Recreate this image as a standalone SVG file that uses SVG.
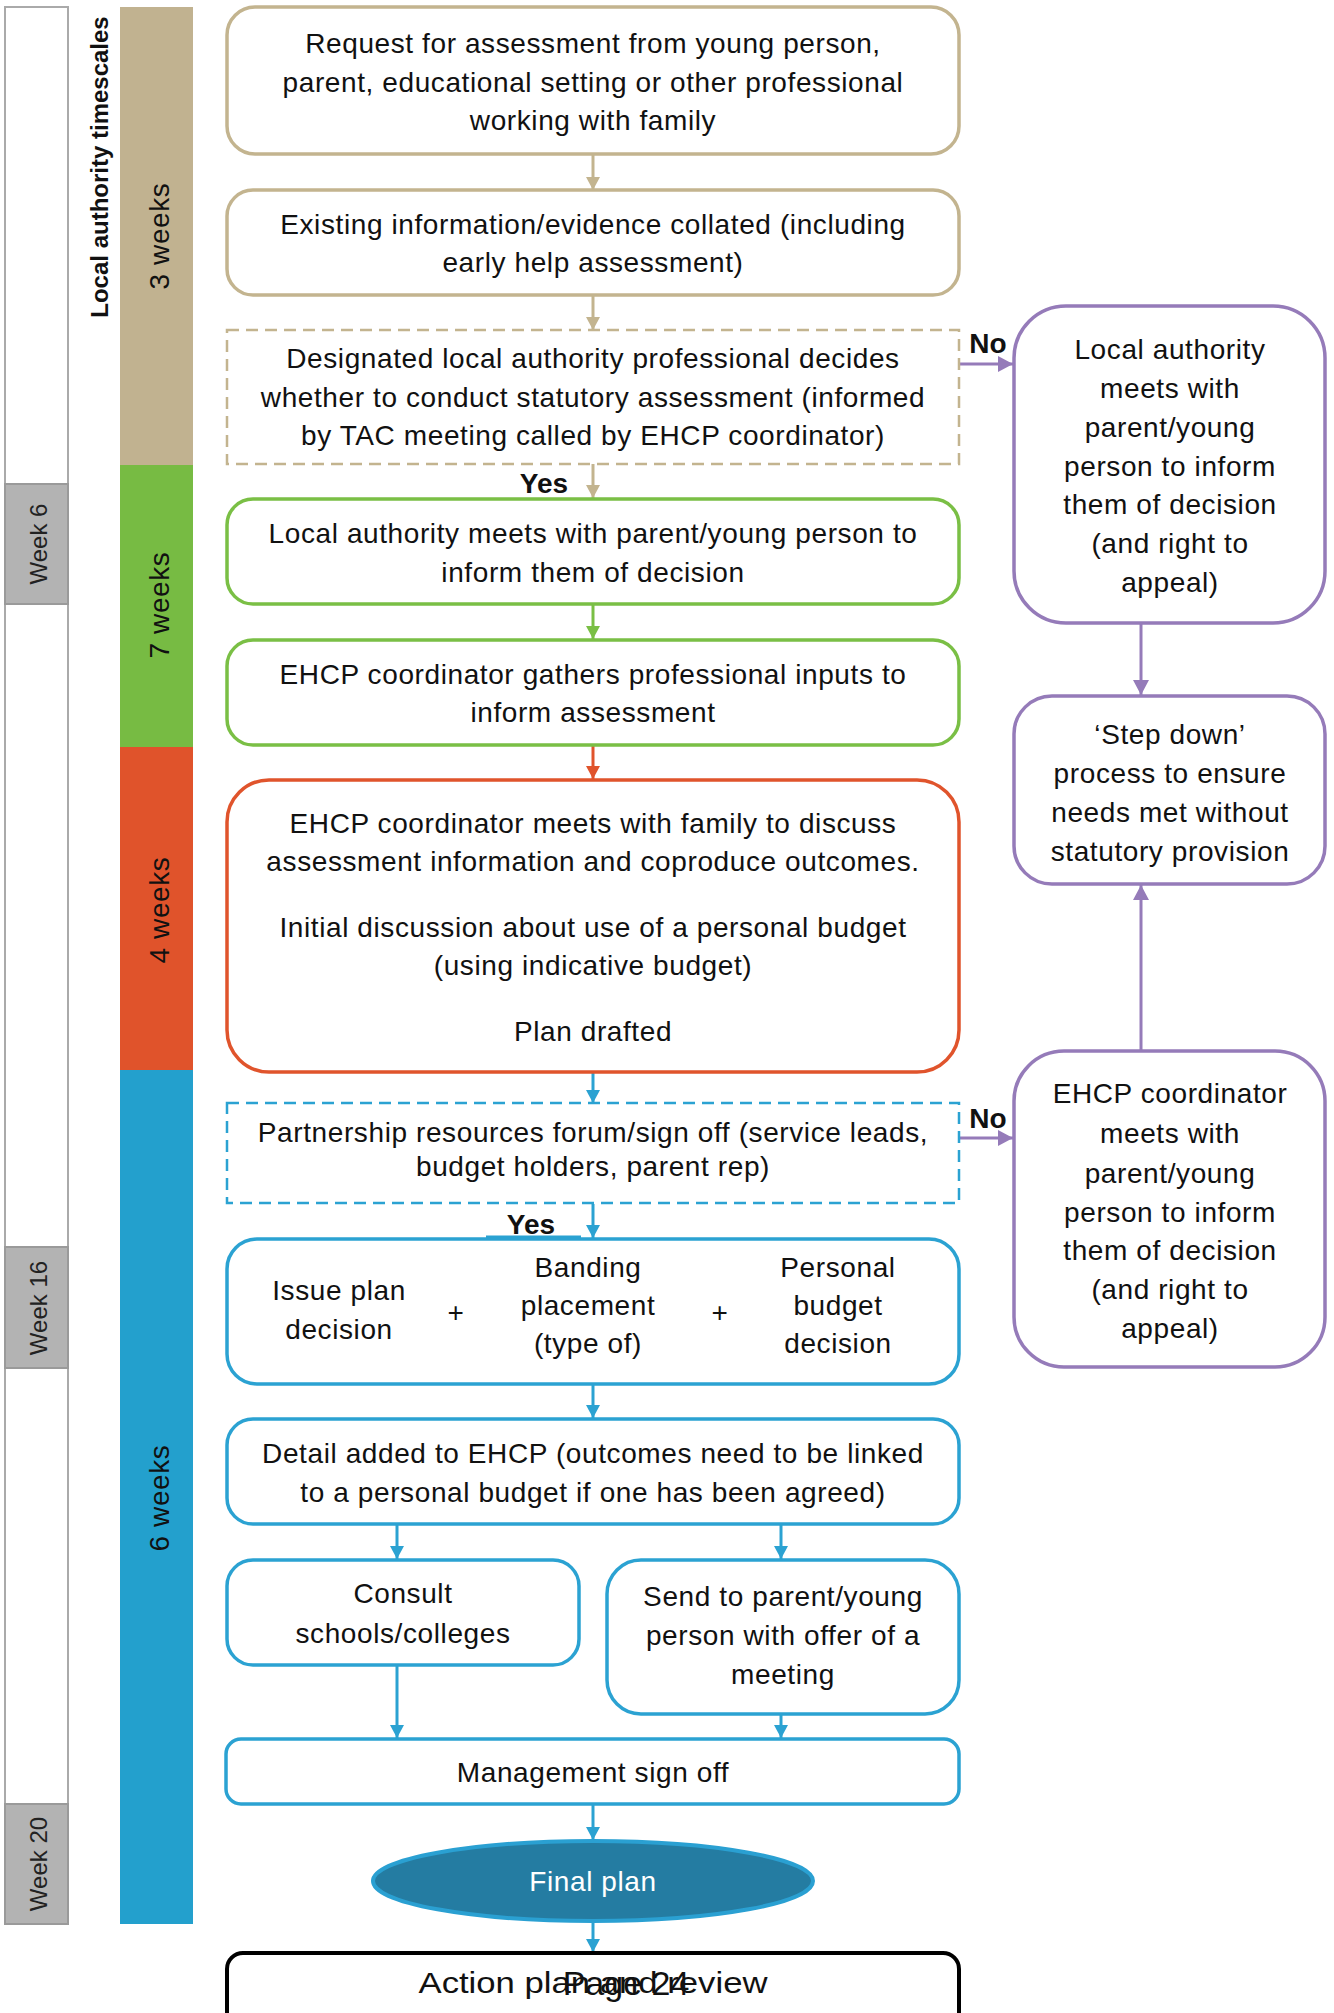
<svg xmlns="http://www.w3.org/2000/svg" width="1334" height="2013" viewBox="0 0 1334 2013">
<style>
.t{font-family:"Liberation Sans",Arial,sans-serif;font-size:28px;letter-spacing:0.6px;fill:#111;text-anchor:middle}
.bd{font-weight:bold;letter-spacing:0}
.wk{font-family:"Liberation Sans",Arial,sans-serif;font-size:24px;fill:#222;text-anchor:middle}
.box{fill:#fff;stroke-width:3.5}
.tan{stroke:#c3b48f}
.grn{stroke:#7abf45}
.red{stroke:#e0542c}
.blu{stroke:#2ba2d2}
.pur{stroke:#957bb9}
.dash{stroke-dasharray:12 7;stroke-width:2.5}
.c{fill:none;stroke-width:3}
.week{fill:#b3b3b3;stroke:#9a9a9a;stroke-width:2}
</style>
<defs>
<marker id="aTan" markerUnits="userSpaceOnUse" markerWidth="14" markerHeight="14" refX="13" refY="7" orient="auto"><path d="M0,0 L13,7 L0,14 z" fill="#c3b48f"/></marker>
<marker id="aGrn" markerUnits="userSpaceOnUse" markerWidth="14" markerHeight="14" refX="13" refY="7" orient="auto"><path d="M0,0 L13,7 L0,14 z" fill="#7abf45"/></marker>
<marker id="aRed" markerUnits="userSpaceOnUse" markerWidth="14" markerHeight="14" refX="13" refY="7" orient="auto"><path d="M0,0 L13,7 L0,14 z" fill="#e0542c"/></marker>
<marker id="aBlu" markerUnits="userSpaceOnUse" markerWidth="14" markerHeight="14" refX="13" refY="7" orient="auto"><path d="M0,0 L13,7 L0,14 z" fill="#2ba2d2"/></marker>
<marker id="aPur" markerUnits="userSpaceOnUse" markerWidth="16" markerHeight="16" refX="15" refY="8" orient="auto"><path d="M0,0 L15,8 L0,16 z" fill="#957bb9"/></marker>
</defs>

<g id="timeline">
<rect x="5" y="7" width="63" height="1917" fill="#fff" stroke="#aaa" stroke-width="2"/>
<rect class="week" x="5" y="484" width="63" height="120"/>
<rect class="week" x="5" y="1247" width="63" height="121"/>
<rect class="week" x="5" y="1804" width="63" height="120"/>
<text class="wk" transform="translate(47,544) rotate(-90)">Week 6</text>
<text class="wk" transform="translate(47,1308) rotate(-90)">Week 16</text>
<text class="wk" transform="translate(47,1864) rotate(-90)">Week 20</text>
<text class="t bd" style="font-size:24px" transform="translate(108,167) rotate(-90)">Local authority timescales</text>
</g>

<g id="phases">
<rect x="120" y="7" width="73" height="458" fill="#c1b290"/>
<rect x="120" y="465" width="73" height="282" fill="#77bb43"/>
<rect x="120" y="747" width="73" height="323" fill="#e0532b"/>
<rect x="120" y="1070" width="73" height="854" fill="#23a0cd"/>
<text class="t" transform="translate(169,236) rotate(-90)">3 weeks</text>
<text class="t" transform="translate(169,605) rotate(-90)">7 weeks</text>
<text class="t" transform="translate(169,910) rotate(-90)">4 weeks</text>
<text class="t" transform="translate(169,1498) rotate(-90)">6 weeks</text>
</g>

<g id="connectors">
<line class="c tan" x1="593" y1="155" x2="593" y2="190" marker-end="url(#aTan)"/>
<line class="c tan" x1="593" y1="296" x2="593" y2="330" marker-end="url(#aTan)"/>
<line class="c tan" x1="593" y1="464" x2="593" y2="498" marker-end="url(#aTan)"/>
<line class="c grn" x1="593" y1="605" x2="593" y2="639" marker-end="url(#aGrn)"/>
<line class="c red" x1="593" y1="746" x2="593" y2="779" marker-end="url(#aRed)"/>
<line class="c blu" x1="593" y1="1073" x2="593" y2="1103" marker-end="url(#aBlu)"/>
<line class="c blu" x1="593" y1="1204" x2="593" y2="1238" marker-end="url(#aBlu)"/>
<line class="c blu" x1="486" y1="1237" x2="581" y2="1237"/>
<line class="c blu" x1="593" y1="1385" x2="593" y2="1418" marker-end="url(#aBlu)"/>
<line class="c blu" x1="397" y1="1525" x2="397" y2="1559" marker-end="url(#aBlu)"/>
<line class="c blu" x1="781" y1="1525" x2="781" y2="1559" marker-end="url(#aBlu)"/>
<line class="c blu" x1="397" y1="1666" x2="397" y2="1738" marker-end="url(#aBlu)"/>
<line class="c blu" x1="781" y1="1715" x2="781" y2="1738" marker-end="url(#aBlu)"/>
<line class="c blu" x1="593" y1="1805" x2="593" y2="1840" marker-end="url(#aBlu)"/>
<line class="c blu" x1="593" y1="1923" x2="593" y2="1952" marker-end="url(#aBlu)"/>
<line class="c pur" x1="960" y1="364" x2="1013" y2="364" stroke-width="3.5" marker-end="url(#aPur)"/>
<line class="c pur" x1="960" y1="1138" x2="1013" y2="1138" stroke-width="3.5" marker-end="url(#aPur)"/>
<line class="c pur" x1="1141" y1="616" x2="1141" y2="695" stroke-width="3.5" marker-end="url(#aPur)"/>
<line class="c pur" x1="1141" y1="1050" x2="1141" y2="885" stroke-width="3.5" marker-end="url(#aPur)"/>
<text class="t bd" x="988" y="353">No</text>
<text class="t bd" x="988" y="1128">No</text>
<text class="t bd" x="544" y="493">Yes</text>
<text class="t bd" x="531" y="1234">Yes</text>
</g>

<g id="request">
<rect class="box tan" x="227" y="7" width="732" height="147" rx="28"/>
<text class="t" x="593" y="53">Request for assessment from young person,</text>
<text class="t" x="593" y="92">parent, educational setting or other professional</text>
<text class="t" x="593" y="130">working with family</text>
</g>

<g id="existing">
<rect class="box tan" x="227" y="190" width="732" height="105" rx="26"/>
<text class="t" x="593" y="234">Existing information/evidence collated (including</text>
<text class="t" x="593" y="272">early help assessment)</text>
</g>

<g id="decide">
<rect class="box tan dash" x="227" y="330" width="732" height="134"/>
<text class="t" x="593" y="368">Designated local authority professional decides</text>
<text class="t" x="593" y="407">whether to conduct statutory assessment (informed</text>
<text class="t" x="593" y="445">by TAC meeting called by EHCP coordinator)</text>
</g>

<g id="la-meets">
<rect class="box grn" x="227" y="499" width="732" height="105" rx="26"/>
<text class="t" x="593" y="543">Local authority meets with parent/young person to</text>
<text class="t" x="593" y="582">inform them of decision</text>
</g>

<g id="gathers">
<rect class="box grn" x="227" y="640" width="732" height="105" rx="26"/>
<text class="t" x="593" y="684">EHCP coordinator gathers professional inputs to</text>
<text class="t" x="593" y="722">inform assessment</text>
</g>

<g id="meets-family">
<rect class="box red" x="227" y="780" width="732" height="292" rx="42"/>
<text class="t" x="593" y="833">EHCP coordinator meets with family to discuss</text>
<text class="t" x="593" y="871">assessment information and coproduce outcomes.</text>
<text class="t" x="593" y="937">Initial discussion about use of a personal budget</text>
<text class="t" x="593" y="975">(using indicative budget)</text>
<text class="t" x="593" y="1041">Plan drafted</text>
</g>

<g id="forum">
<rect class="box blu dash" x="227" y="1103" width="732" height="100"/>
<text class="t" x="593" y="1142">Partnership resources forum/sign off (service leads,</text>
<text class="t" x="593" y="1176">budget holders, parent rep)</text>
</g>

<g id="issue">
<rect class="box blu" x="227" y="1239" width="732" height="145" rx="30"/>
<text class="t" x="339" y="1300">Issue plan</text>
<text class="t" x="339" y="1339">decision</text>
<text class="t" x="456" y="1322">+</text>
<text class="t" x="588" y="1277">Banding</text>
<text class="t" x="588" y="1315">placement</text>
<text class="t" x="588" y="1353">(type of)</text>
<text class="t" x="720" y="1322">+</text>
<text class="t" x="838" y="1277">Personal</text>
<text class="t" x="838" y="1315">budget</text>
<text class="t" x="838" y="1353">decision</text>
</g>

<g id="detail">
<rect class="box blu" x="227" y="1419" width="732" height="105" rx="26"/>
<text class="t" x="593" y="1463">Detail added to EHCP (outcomes need to be linked</text>
<text class="t" x="593" y="1502">to a personal budget if one has been agreed)</text>
</g>

<g id="consult">
<rect class="box blu" x="227" y="1560" width="352" height="105" rx="26"/>
<text class="t" x="403" y="1603">Consult</text>
<text class="t" x="403" y="1643">schools/colleges</text>
</g>

<g id="send">
<rect class="box blu" x="607" y="1560" width="352" height="154" rx="34"/>
<text class="t" x="783" y="1606">Send to parent/young</text>
<text class="t" x="783" y="1645">person with offer of a</text>
<text class="t" x="783" y="1684">meeting</text>
</g>

<g id="management">
<rect class="box blu" x="226" y="1739" width="733" height="65" rx="15"/>
<text class="t" x="593" y="1782">Management sign off</text>
</g>

<g id="final">
<ellipse cx="593" cy="1881" rx="220" ry="40" fill="#247ca2" stroke="#2aa0d2" stroke-width="4"/>
<text class="t" x="593" y="1891" style="fill:#fff">Final plan</text>
</g>

<g id="action">
<rect x="227" y="1953" width="732" height="100" rx="16" fill="#fff" stroke="#000" stroke-width="4"/>
<text class="t" x="593" y="1993" style="font-size:30px;letter-spacing:0" textLength="349" lengthAdjust="spacingAndGlyphs">Action plan and review</text>
<text class="t" x="626" y="1995" style="font-size:34px;letter-spacing:0">Page 24</text>
</g>

<g id="la-no">
<rect class="box pur" x="1014" y="306" width="311" height="317" rx="52"/>
<text class="t" x="1170" y="359">Local authority</text>
<text class="t" x="1170" y="398">meets with</text>
<text class="t" x="1170" y="437">parent/young</text>
<text class="t" x="1170" y="476">person to inform</text>
<text class="t" x="1170" y="514">them of decision</text>
<text class="t" x="1170" y="553">(and right to</text>
<text class="t" x="1170" y="592">appeal)</text>
</g>

<g id="step-down">
<rect class="box pur" x="1014" y="696" width="311" height="188" rx="38"/>
<text class="t" x="1170" y="744">‘Step down’</text>
<text class="t" x="1170" y="783">process to ensure</text>
<text class="t" x="1170" y="822">needs met without</text>
<text class="t" x="1170" y="861">statutory provision</text>
</g>

<g id="ehcp-no">
<rect class="box pur" x="1014" y="1051" width="311" height="316" rx="50"/>
<text class="t" x="1170" y="1103">EHCP coordinator</text>
<text class="t" x="1170" y="1143">meets with</text>
<text class="t" x="1170" y="1183">parent/young</text>
<text class="t" x="1170" y="1222">person to inform</text>
<text class="t" x="1170" y="1260">them of decision</text>
<text class="t" x="1170" y="1299">(and right to</text>
<text class="t" x="1170" y="1338">appeal)</text>
</g>
</svg>
